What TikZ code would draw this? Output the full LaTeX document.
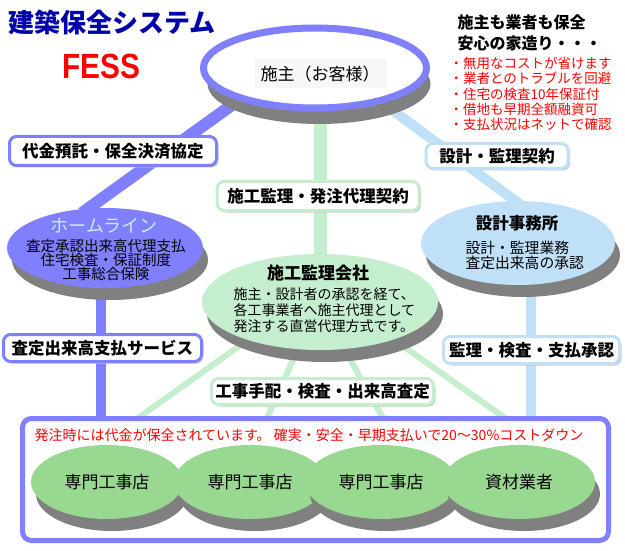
\documentclass[tikz,border=0pt]{standalone}
\usepackage{fontspec}
\setmainfont{Noto Sans CJK JP}
\newfontfamily\latinbold{Liberation Sans}
\usetikzlibrary{shapes.geometric,shadows,calc,backgrounds}
\definecolor{lblue}{RGB}{128,128,255}
\definecolor{lgreen}{RGB}{196,238,206}
\definecolor{sky}{RGB}{192,224,248}
\definecolor{leaf}{RGB}{152,216,144}
\definecolor{shade}{RGB}{128,128,128}
\definecolor{navy}{RGB}{0,0,170}
\definecolor{hl}{RGB}{200,235,255}
\setlength\lineskiplimit{-100pt}
\tikzset{
  sh/.style={drop shadow={shadow xshift=5pt,shadow yshift=-12pt,fill=shade,opacity=1}},
  oval/.style={ellipse, inner sep=0pt, sh},
  tag/.style={rounded corners=7pt, draw, line width=3pt, fill=white, inner sep=0pt,
    font=\fontsize{16.5}{16.5}\selectfont\bfseries,
    drop shadow={shadow xshift=2pt,shadow yshift=-2pt,fill=black!20,opacity=1}},
  shop/.style={oval, fill=leaf, minimum width=152pt, minimum height=74pt, font=\fontsize{17}{17}\selectfont},
  fan/.style={lgreen, line width=6pt}
}
\begin{document}
\begin{tikzpicture}[x=1pt,y=-1pt]
\useasboundingbox (0,0) rectangle (625,551);

% main shapes
\node[ellipse, inner sep=0pt, fill=white, draw=lblue, line width=7pt, minimum width=223pt, minimum height=80pt,
  drop shadow={shadow xshift=4pt,shadow yshift=-16pt,fill=shade,opacity=1}] (owner) at (315,68) {};
\node[fill=black!3, inner sep=0pt, minimum width=133pt, minimum height=29pt, font=\fontsize{17}{17}\selectfont] (ownertxt) at (320,74) {施主（お客様）};

\node[oval, fill=lblue, minimum width=196pt, minimum height=80pt] (home) at (105,248) {};
\node[text=hl, font=\fontsize{18}{18}\selectfont] (hometitle) at (104,226) {ホームライン};
\node[align=center, font=\fontsize{14.5}{14}\selectfont] (homebody) at (106,260) {査定承認出来高代理支払\\住宅検査・保証制度\\工事総合保険};

\node[oval, fill=sky, minimum width=194pt, minimum height=84pt] (design) at (518,243) {};
\node[font=\fontsize{16.5}{16.5}\selectfont\bfseries] (designtitle) at (517,223) {設計事務所};
\node[anchor=west, align=left, font=\fontsize{14.8}{15}\selectfont] (designbody) at (462,255) {設計・監理業務\\査定出来高の承認};

\node[oval, fill=lgreen, minimum width=236pt, minimum height=96pt] (sup) at (320,302) {};
\node[font=\fontsize{17}{17}\selectfont\bfseries] (suptitle) at (318,273) {施工監理会社};
\node[anchor=west, align=left, font=\fontsize{14}{16}\selectfont] (supbody) at (230,310) {施主・設計者の承認を経て、\\各工事業者へ施主代理として\\発注する直営代理方式です。};

\node[draw=lblue, line width=5pt, fill=white, rounded corners=9pt, inner sep=0pt,
  minimum width=586pt, minimum height=122pt] (field) at (315.5,479.5) {};
\node[anchor=west, text=red, font=\fontsize{14}{14}\selectfont] (note) at (31,435)
  {発注時には代金が保全されています。 確実・安全・早期支払いで20～30\%コストダウン};

\node[shop] (shop1) at (107,482) {専門工事店};
\node[shop] (shop2) at (250,482) {専門工事店};
\node[shop] (shop3) at (381,482) {専門工事店};
\node[shop] (supply) at (519,482) {資材業者};

% connector end points on the top edge of the bottom box
\coordinate (pA) at (138,418);
\coordinate (pB) at (267,418);
\coordinate (pC) at (383,418);
\coordinate (pD) at (505,418);

\begin{pgfonlayer}{background}
  \fill[white] (0,0) rectangle (625,551);
  \draw[lblue, line width=12pt] ($(owner.center)+(-65,24)$) -- ($(home.center)+(-23,-35)$);
  \draw[sky, line width=10pt] ($(owner.center)+(61,30)$) -- ($(design.center)+(7,-35)$);
  \draw[lgreen, line width=13pt] (owner.center -| sup.center) -- (sup.center);
  \draw[lblue, line width=10pt] ([xshift=-4pt]home.center) -- ([xshift=-4pt]home.center |- field.north);
  \draw[sky, line width=10pt] ([xshift=13pt]design.center) -- ([xshift=13pt]design.center |- field.north);
  \draw[fan] ($(sup.center)+(-44,18)$) -- (pA);
  \draw[fan] ($(sup.center)+(-9,18)$) -- (pB);
  \draw[fan] ($(sup.center)+(8,18)$) -- (pC);
  \draw[fan] ($(sup.center)+(46,18)$) -- (pD);
\end{pgfonlayer}

% labels on connectors
\node[tag, draw=lblue, minimum width=207pt, minimum height=29pt] (t1) at (113,151) {代金預託・保全決済協定};
\node[tag, draw=lblue, minimum width=198pt, minimum height=27pt] (t2) at (102.5,348) {査定出来高支払サービス};
\node[tag, draw=sky, minimum width=142pt, minimum height=25pt] (t3) at (497,156) {設計・監理契約};
\node[tag, draw=lgreen, minimum width=202pt, minimum height=29pt] (t4) at (318,196) {施工監理・発注代理契約};
\node[tag, draw=sky, minimum width=176pt, minimum height=27pt] (t5) at (531.5,350) {監理・検査・支払承認};
\node[tag, draw=lgreen, minimum width=222pt, minimum height=26pt] (t6) at (322.5,391.5) {工事手配・検査・出来高査定};

% headings
\node[text=navy, font=\fontsize{26}{26}\selectfont\bfseries] (title) at (112,23) {建築保全システム};
\node[text=red, font=\latinbold\fontsize{35}{35}\selectfont\bfseries, xscale=0.85] (fess) at (101,66) {FESS};
\node[anchor=west, align=left, font=\fontsize{16}{21}\selectfont\bfseries] (motto) at (454,33)
  {施主も業者も保全\\安心の家造り・・・};
\node[anchor=west, align=left, text=red, font=\fontsize{13.5}{15.2}\selectfont] (merits) at (446,94)
  {・無用なコストが省けます\\・業者とのトラブルを回避\\・住宅の検査10年保証付\\・借地も早期全額融資可\\・支払状況はネットで確認};
\end{tikzpicture}
\end{document}
